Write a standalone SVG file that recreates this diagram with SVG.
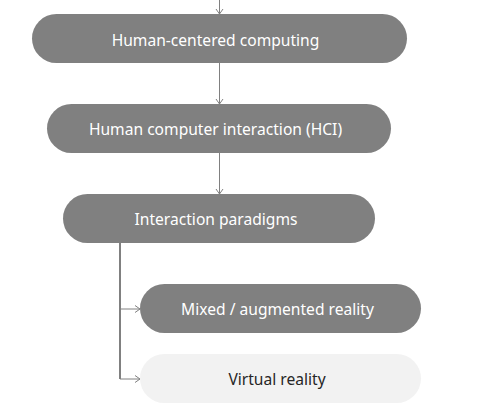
<svg xmlns="http://www.w3.org/2000/svg" width="483" height="420" viewBox="0 0 483 420">
<style>
.n{fill:#808080}
.l{fill:#f2f2f2}
.t{font-family:"Noto Sans","Open Sans",sans-serif;font-size:15.6px;text-anchor:middle}
.tw{fill:#ffffff}
.td{fill:#262626}
.c{fill:none;stroke:#808080;stroke-width:1}
.b{fill:none;stroke:#808080;stroke-width:2}
</style>
<defs>
<marker id="a" markerWidth="10" markerHeight="10" refX="8" refY="5" orient="auto" markerUnits="userSpaceOnUse">
<path d="M3,1.5 L8,5 L3,8.5" fill="none" stroke="#808080" stroke-width="1"/>
</marker>
</defs>
<g id="connectors">
<path class="c" d="M219.5,0 V14" marker-end="url(#a)"/>
<path class="c" d="M219.5,63 V104" marker-end="url(#a)"/>
<path class="c" d="M219.5,153 V194" marker-end="url(#a)"/>
<path class="b" d="M120,243 V379"/>
<path class="c" d="M120,309 H140" marker-end="url(#a)"/>
<path class="c" d="M120,379 H140" marker-end="url(#a)"/>
</g>
<g id="node1">
<rect class="n" x="32" y="14" width="375" height="49" rx="24.5"/>
<text class="t tw" x="215.5" y="45.5">Human-centered computing</text>
</g>
<g id="node2">
<rect class="n" x="47" y="104" width="344" height="49" rx="24.5"/>
<text class="t tw" x="215.5" y="135">Human computer interaction (HCI)</text>
</g>
<g id="node3">
<rect class="n" x="63" y="194" width="312" height="49" rx="24.5"/>
<text class="t tw" x="216" y="224.5">Interaction paradigms</text>
</g>
<g id="node4">
<rect class="n" x="140" y="284" width="281" height="49" rx="24.5"/>
<text class="t tw" x="277.5" y="314.5">Mixed / augmented reality</text>
</g>
<g id="node5">
<rect class="l" x="140" y="354" width="281" height="49" rx="24.5"/>
<text class="t td" x="277" y="384.5">Virtual reality</text>
</g>
</svg>
